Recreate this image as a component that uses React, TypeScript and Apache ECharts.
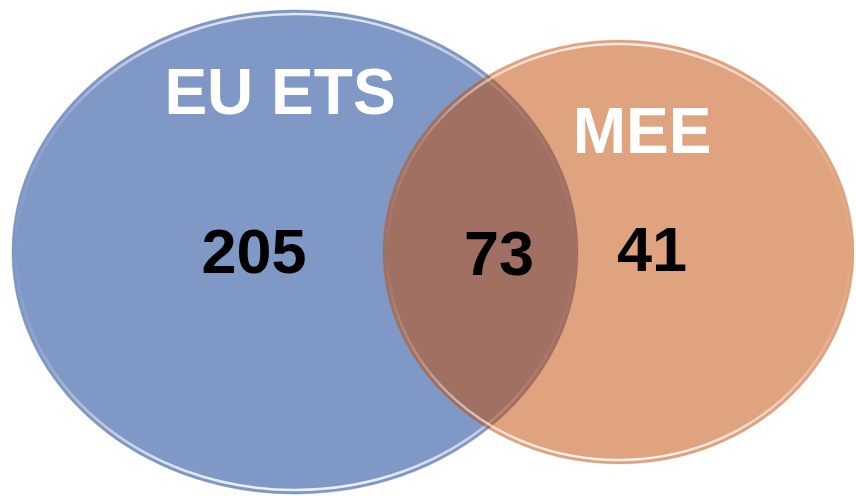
import React, { useEffect, useRef } from "react";
import * as echarts from "echarts";

// Data
const setNames = ["EU ETS", "MEE"];
const regionLabels = ["EU ETS only", "Both", "MEE only"];
const regionCounts = [205, 73, 41];

// Layout (geometry of the diagram, not data)
const ELLIPSES = [
  { cx: 295, cy: 252, rx: 283, ry: 242, fill: "rgb(127,152,198)", opacity: 1, edge: "rgba(90,110,150,0.35)" },
  { cx: 618.5, cy: 252, rx: 235.5, ry: 212, fill: "rgb(193,72,0)", opacity: 0.5, edge: "rgba(150,100,70,0.3)" },
];
const NAME_POS = [
  { x: 280, y: 92 },
  { x: 642, y: 131 },
];
const COUNT_POS = [
  { x: 254, y: 251 },
  { x: 499, y: 253 },
  { x: 652, y: 249 },
];

function rimGradient() {
  return new echarts.graphic.LinearGradient(0, 0, 0, 1, [
    { offset: 0, color: "rgba(255,255,255,0.75)" },
    { offset: 0.22, color: "rgba(255,255,255,0.15)" },
    { offset: 0.5, color: "rgba(255,255,255,0)" },
    { offset: 0.75, color: "rgba(255,255,255,0.2)" },
    { offset: 1, color: "rgba(255,255,255,0.85)" },
  ]);
}

export default function App() {
  const ref = useRef<HTMLDivElement>(null);
  useEffect(() => {
    if (!ref.current) return;
    const chart = echarts.init(ref.current, null, { renderer: "svg" });
    const elements: any[] = [];
    ELLIPSES.forEach((e, i) => {
      elements.push({
        type: "ellipse",
        shape: { cx: e.cx, cy: e.cy, rx: e.rx, ry: e.ry },
        style: { fill: e.fill, opacity: e.opacity, stroke: e.edge, lineWidth: 1 },
        z: 10 + i * 10,
      });
      elements.push({
        type: "ellipse",
        shape: { cx: e.cx, cy: e.cy, rx: e.rx - 4, ry: e.ry - 4 },
        style: { fill: "none", stroke: rimGradient(), lineWidth: 2.5 },
        z: 11 + i * 10,
      });
    });
    setNames.forEach((n, i) => {
      elements.push({
        type: "text",
        x: NAME_POS[i].x,
        y: NAME_POS[i].y,
        style: {
          text: n,
          fill: "#ffffff",
          fontFamily: "Liberation Sans, Arial, sans-serif",
          fontWeight: "bold",
          fontSize: 64,
          textAlign: "center",
          textVerticalAlign: "middle",
        },
        z: 50,
      });
    });
    regionCounts.forEach((c, i) => {
      elements.push({
        type: "text",
        x: COUNT_POS[i].x,
        y: COUNT_POS[i].y,
        name: regionLabels[i],
        style: {
          text: String(c),
          fill: "#000000",
          fontFamily: "Liberation Sans, Arial, sans-serif",
          fontWeight: "bold",
          fontSize: 63,
          textAlign: "center",
          textVerticalAlign: "middle",
        },
        z: 50,
      });
    });
    chart.setOption({
      animation: false,
      backgroundColor: "#ffffff",
      graphic: { elements },
    });
    return () => chart.dispose();
  }, []);
  return (
    <div
      ref={ref}
      style={{ width: 856, height: 496, position: "fixed", left: 0, top: 0 }}
    />
  );
}
